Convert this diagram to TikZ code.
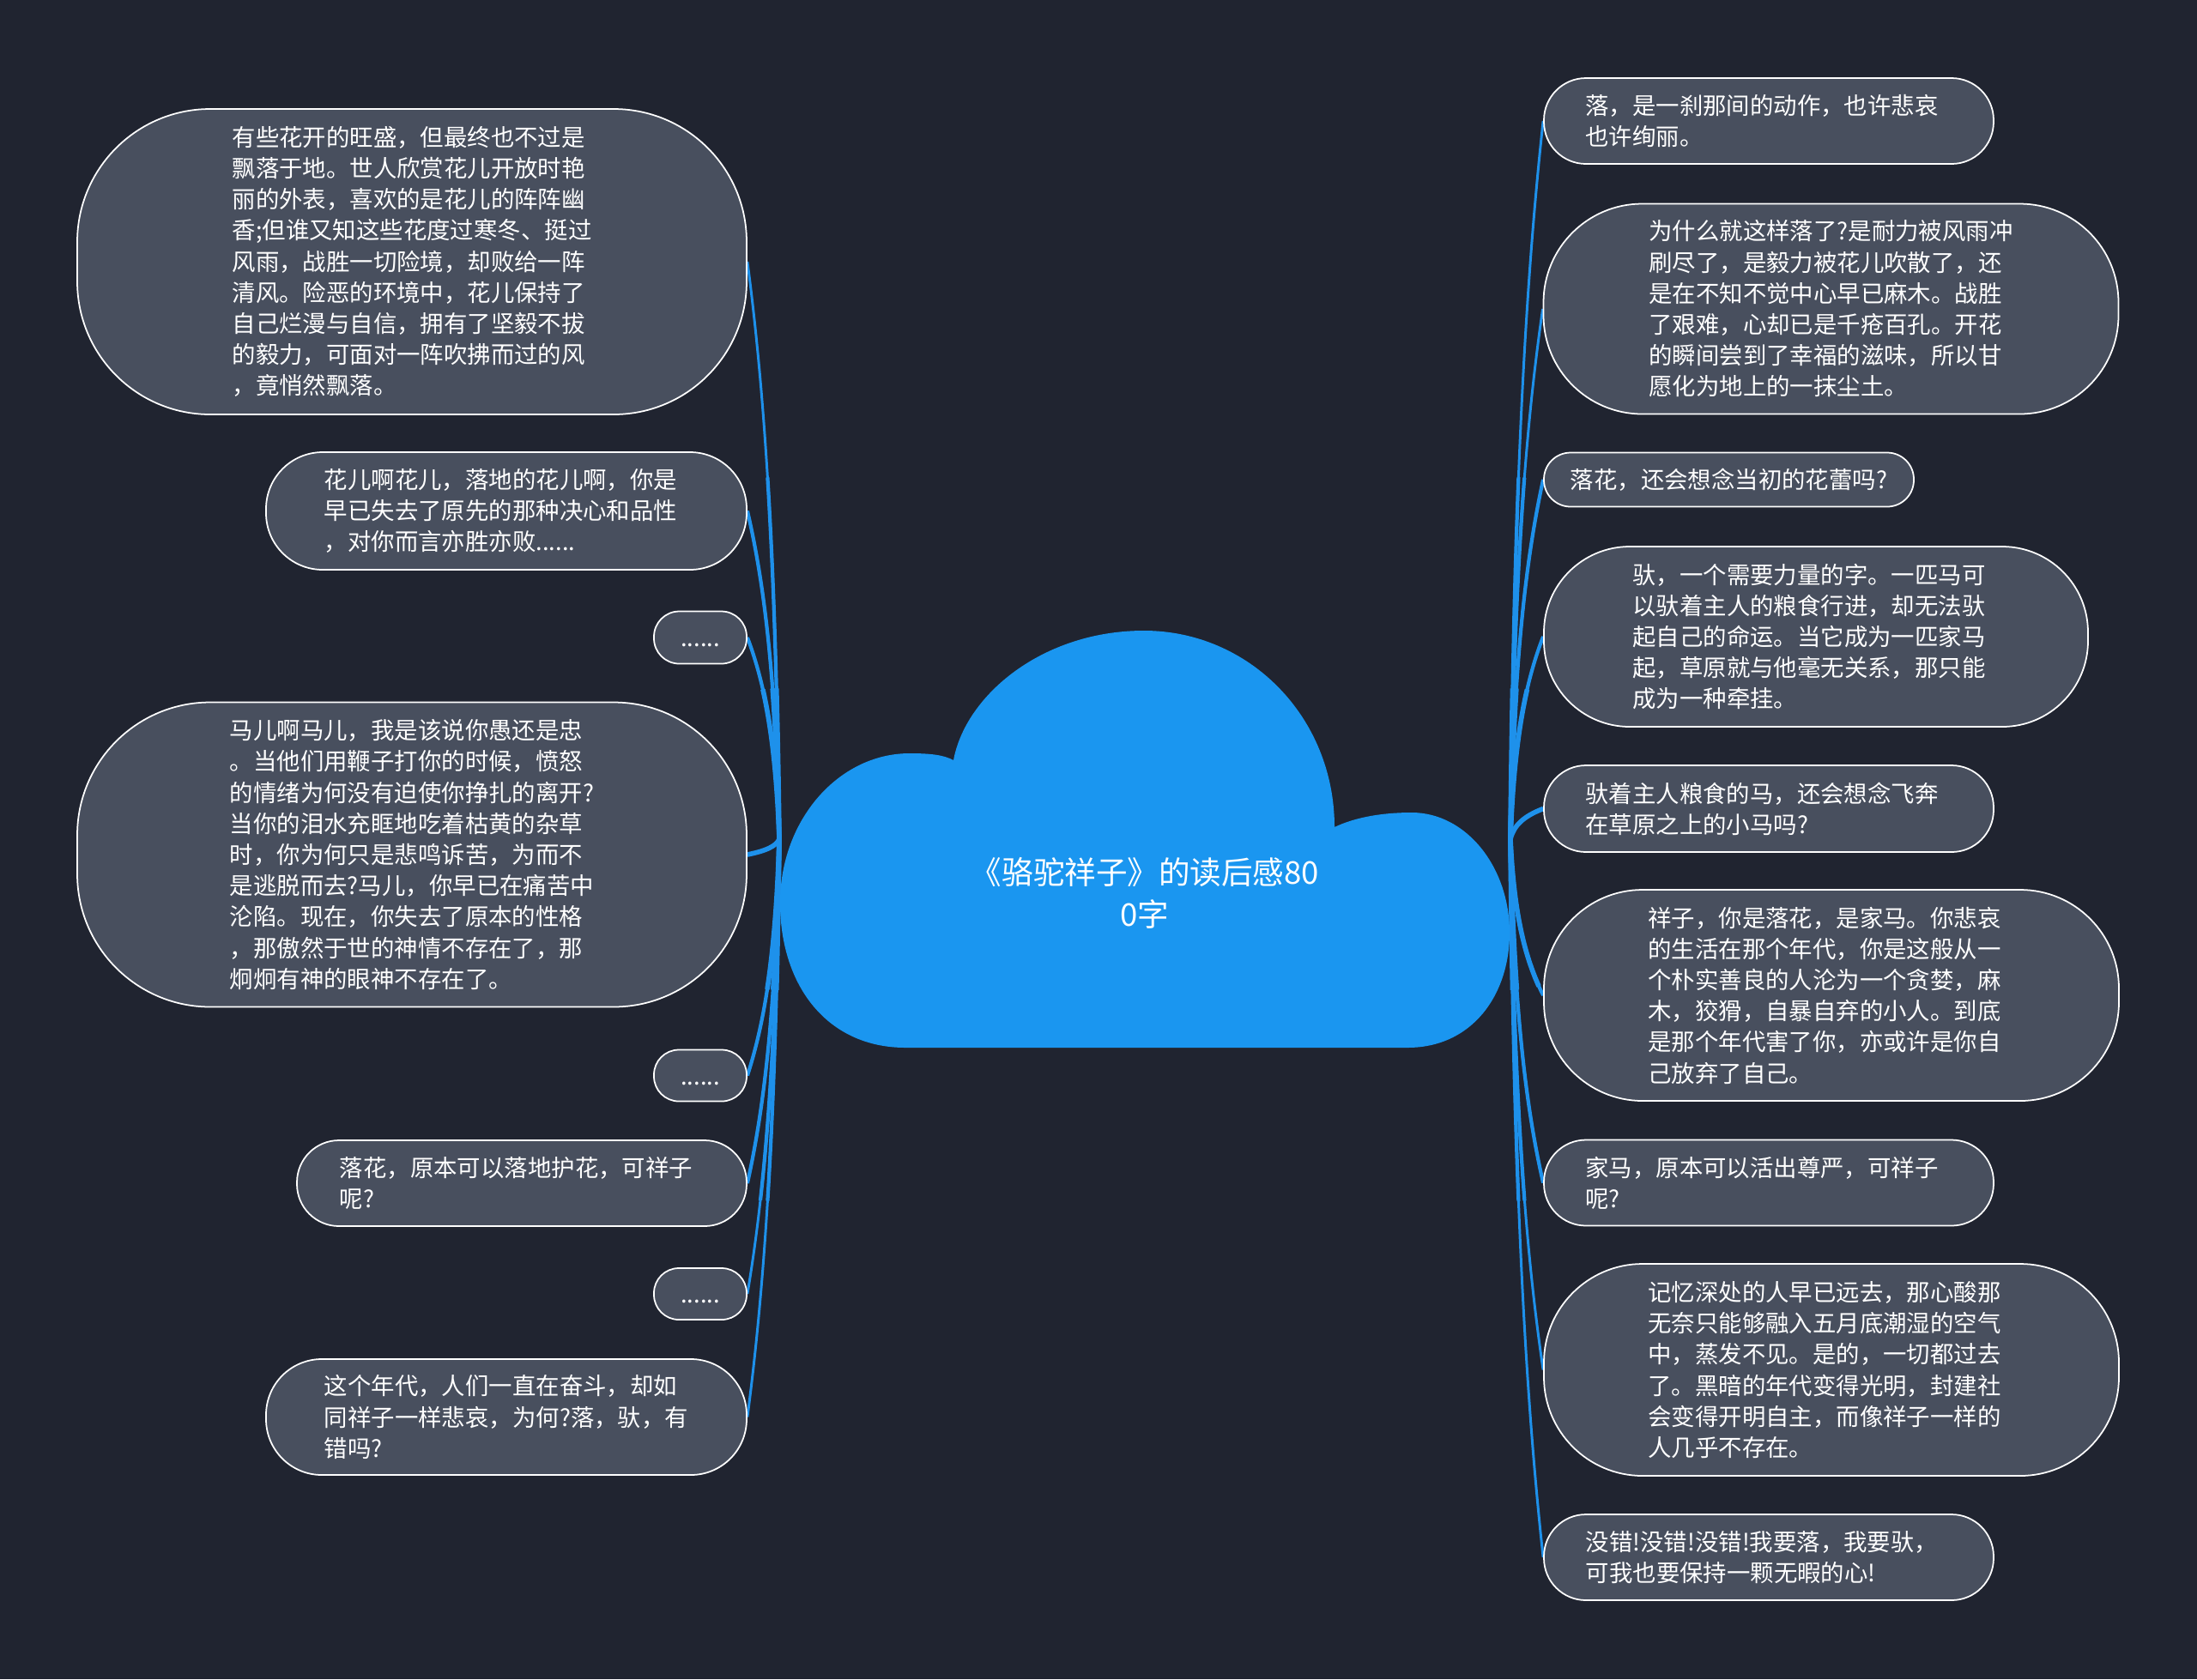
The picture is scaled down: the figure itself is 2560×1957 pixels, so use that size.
\documentclass[tikz,border=0pt]{standalone}
\usepackage{fontspec}
\newfontfamily\cjk{Noto Sans CJK SC}
\usetikzlibrary{calc}
\pgfdeclarelayer{backfill}
\pgfdeclarelayer{links}
\pgfsetlayers{backfill,links,main}
\definecolor{bgc}{RGB}{32,36,48}
\definecolor{nodefill}{RGB}{72,79,94}
\definecolor{cloudblue}{RGB}{26,150,240}
\definecolor{linkblue}{RGB}{30,145,235}
\newcommand\myconn[2]{%
  \foreach \lw/\ld in {0.85pt/3000pt, 1.2pt/120pt, 1.6pt/50pt}{%
    \draw[linkblue, line width=\lw, dash pattern=on \ld off 3000pt]
      let \p1=(#1), \p2=(#2) in
      (\p1) .. controls ({\x1+0.1*(\x2-\x1)},{\y1+0.45*(\y2-\y1)})
               and ({\x2-0.6*(\x2-\x1)},{\y2-0.25*(\y2-\y1)}) .. (\p2);
  }%
}
\newcommand\wa{\hspace*{1.6mm}}
\newcommand\wb{\hspace*{1.3mm}}
\begin{document}
\begin{tikzpicture}[x=0.1mm,y=-0.1mm,
  box/.style={draw=white, line width=0.5pt, fill=nodefill, text=white,
    align=left, inner sep=0pt,
    font=\cjk\fontsize{7.8pt}{10.3pt}\selectfont},
  titlestyle/.style={text=white, align=center, inner sep=0pt,
    font=\cjk\fontsize{10.4pt}{14pt}\selectfont}]
% background / bounding box
\begin{pgfonlayer}{backfill}
\fill[bgc] (0,0) rectangle (2560,1957);
\end{pgfonlayer}
\useasboundingbox (0,0) rectangle (2560,1957);

% junctions
\coordinate (JL) at (908,978);
\coordinate (JR) at (1760,978);

% left nodes
\node[box, minimum width=78mm, minimum height=35.6mm, rounded corners=15.5mm] (L1) at (480,305) {有些花开的旺盛，但最终也不过是\\飘落于地。世人欣赏花儿开放时艳\\丽的外表，喜欢的是花儿的阵阵幽\\香;但谁又知这些花度过寒冬、挺过\\风雨，战胜一切险境，却败给一阵\\清风。险恶的环境中，花儿保持了\\自己烂漫与自信，拥有了坚毅不拔\\的毅力，可面对一阵吹拂而过的风\\，竟悄然飘落。};
\node[box, minimum width=56mm, minimum height=13.7mm, rounded corners=6.6mm] (L2) at (590,595.5) {花儿啊花儿，落地的花儿啊，你是\wb\\早已失去了原先的那种决心和品性\\，对你而言亦胜亦败......};
\node[box, minimum width=10.8mm, minimum height=6.1mm, rounded corners=2.95mm] (L3) at (816,743) {\vphantom{字}......};
\node[box, minimum width=78mm, minimum height=35.5mm, rounded corners=15.5mm] (L4) at (480,996) {马儿啊马儿，我是该说你愚还是忠\\。当他们用鞭子打你的时候，愤怒\\的情绪为何没有迫使你挣扎的离开?\\当你的泪水充眶地吃着枯黄的杂草\\时，你为何只是悲鸣诉苦，为而不\\是逃脱而去?马儿，你早已在痛苦中\\沦陷。现在，你失去了原本的性格\\，那傲然于世的神情不存在了，那\\炯炯有神的眼神不存在了。};
\node[box, minimum width=10.8mm, minimum height=6mm, rounded corners=2.9mm] (L5) at (816,1253.5) {\vphantom{字}......};
\node[box, minimum width=52.4mm, minimum height=10mm, rounded corners=4.9mm] (L6) at (608,1379) {落花，原本可以落地护花，可祥子\wb\\呢?};
\node[box, minimum width=10.8mm, minimum height=6mm, rounded corners=2.9mm] (L7) at (816,1508) {\vphantom{字}......};
\node[box, minimum width=56mm, minimum height=13.5mm, rounded corners=6.5mm] (L8) at (590,1651.5) {这个年代，人们一直在奋斗，却如\\同祥子一样悲哀，为何?落，驮，有\\错吗?};

% right nodes
\node[box, minimum width=52.4mm, minimum height=10mm, rounded corners=4.9mm] (R1) at (2061,141) {落，是一刹那间的动作，也许悲哀\wa\\也许绚丽。};
\node[box, minimum width=67mm, minimum height=24.5mm, rounded corners=11.5mm] (R2) at (2133.5,360) {为什么就这样落了?是耐力被风雨冲\\刷尽了，是毅力被花儿吹散了，还\\是在不知不觉中心早已麻木。战胜\\了艰难，心却已是千疮百孔。开花\\的瞬间尝到了幸福的滋味，所以甘\\愿化为地上的一抹尘土。};
\node[box, minimum width=43.1mm, minimum height=6.3mm, rounded corners=3.1mm] (R3) at (2014.5,559) {落花，还会想念当初的花蕾吗?};
\node[box, minimum width=63.4mm, minimum height=21mm, rounded corners=10mm] (R4) at (2116,742) {驮，一个需要力量的字。一匹马可\wa\\以驮着主人的粮食行进，却无法驮\\起自己的命运。当它成为一匹家马\\起，草原就与他毫无关系，那只能\\成为一种牵挂。};
\node[box, minimum width=52.4mm, minimum height=10.1mm, rounded corners=4.9mm] (R5) at (2061,942.5) {驮着主人粮食的马，还会想念飞奔\wa\\在草原之上的小马吗?};
\node[box, minimum width=67mm, minimum height=24.6mm, rounded corners=11.5mm] (R6) at (2134,1160) {祥子，你是落花，是家马。你悲哀\wa\\的生活在那个年代，你是这般从一\\个朴实善良的人沦为一个贪婪，麻\\木，狡猾，自暴自弃的小人。到底\\是那个年代害了你，亦或许是你自\\己放弃了自己。};
\node[box, minimum width=52.4mm, minimum height=10mm, rounded corners=4.9mm] (R7) at (2061,1378.5) {家马，原本可以活出尊严，可祥子\wa\\呢?};
\node[box, minimum width=67mm, minimum height=24.7mm, rounded corners=11.5mm] (R8) at (2134,1596.5) {记忆深处的人早已远去，那心酸那\wa\\无奈只能够融入五月底潮湿的空气\\中，蒸发不见。是的，一切都过去\\了。黑暗的年代变得光明，封建社\\会变得开明自主，而像祥子一样的\\人几乎不存在。};
\node[box, minimum width=52.4mm, minimum height=10mm, rounded corners=4.9mm] (R9) at (2061,1815) {没错!没错!没错!我要落，我要驮，\wa\\可我也要保持一颗无暇的心!};

% connectors (behind nodes)
\begin{pgfonlayer}{links}
\foreach \nn in {L1,L2,L3,L4,L5,L6,L7,L8}{\myconn{JL}{\nn.east}}
\foreach \nn in {R1,R2,R3,R4,R5,R6,R7,R8,R9}{\myconn{JR}{\nn.west}}
\end{pgfonlayer}

% cloud
\fill[cloudblue] (909,1052) .. controls (909,956) and (977,878) .. (1060,878)
  .. controls (1085,878) and (1100,880) .. (1111,886)
  .. controls (1125,810) and (1215,735) .. (1333,735)
  .. controls (1455,735) and (1555,835) .. (1555,964)
  .. controls (1580,952) and (1612,947) .. (1645,947)
  .. controls (1708,947) and (1759,1010) .. (1759,1087)
  .. controls (1759,1160) and (1715,1221) .. (1640,1221)
  -- (1055,1221)
  .. controls (965,1221) and (909,1150) .. (909,1052) -- cycle;
\node[titlestyle] (title) at (1334,1041) {《骆驼祥子》的读后感80\\0字};
\end{tikzpicture}
\end{document}
